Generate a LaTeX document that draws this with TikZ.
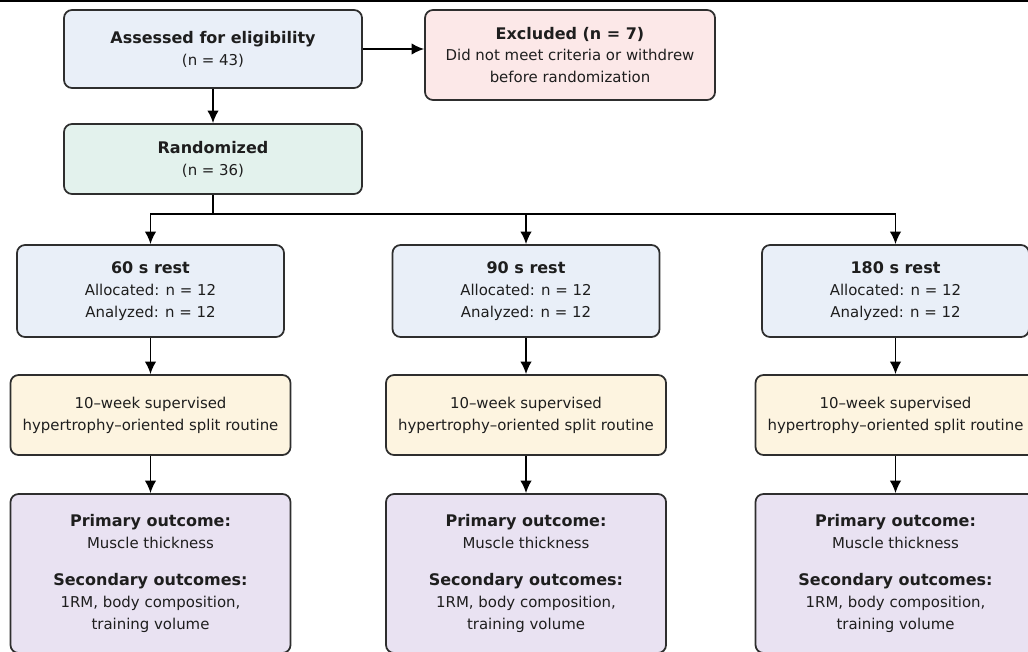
\documentclass[tikz,border=0pt]{standalone}
\usepackage{fontspec}
\setmainfont{DejaVu Sans}
\usetikzlibrary{arrows.meta, positioning}

\definecolor{edgegray}{HTML}{2E2E2E}
\definecolor{textgray}{HTML}{1E1E1E}
\definecolor{bluefill}{HTML}{E9EFF8}
\definecolor{pinkfill}{HTML}{FCE8E8}
\definecolor{mintfill}{HTML}{E3F2ED}
\definecolor{creamfill}{HTML}{FDF4E0}
\definecolor{lilacfill}{HTML}{E9E2F2}

\newcommand{\hd}[1]{{\fontsize{9.1}{12.5}\selectfont\bfseries #1}}

\tikzset{
  box/.style={draw=edgegray, line width=1pt, rounded corners=0.16cm,
    align=center, text=textgray, inner sep=0pt,
    font=\fontsize{8.5}{12.5}\selectfont},
  armbox/.style={box, fill=bluefill, minimum width=5.34cm, minimum height=1.84cm},
  routbox/.style={box, fill=creamfill, minimum width=5.6cm, minimum height=1.6cm},
  outbox/.style={box, fill=lilacfill, minimum width=5.6cm, minimum height=3.18cm},
  flow/.style={draw=black, line width=1pt, -{Latex[length=2.5mm,width=2.3mm]}}
}

\begin{document}
\begin{tikzpicture}[node distance=2cm]
  \useasboundingbox (0,0) rectangle (20.56,-13.02);
  \draw[line width=1.6pt] (0,-0.02) -- (20.56,-0.02);

  \node[box, fill=bluefill, minimum width=5.96cm, minimum height=1.56cm] (assess) at (4.26,-0.98)
    {\hd{Assessed for eligibility}\\(n = 43)};
  \node[box, fill=pinkfill, minimum width=5.8cm, minimum height=1.8cm] (excl)
    [right of=assess, node distance=7.14cm, yshift=-0.12cm]
    {\hd{Excluded (n = 7)}\\Did not meet criteria or withdrew\\before randomization};
  \node[box, fill=mintfill, minimum width=5.96cm, minimum height=1.4cm] (rand)
    [below of=assess, node distance=2.2cm]
    {\hd{Randomized}\\(n = 36)};

  % arms
  \node[armbox] (arm60) [below of=rand, node distance=2.64cm, xshift=-1.25cm]
    {\hd{60 s rest}\\Allocated: n = 12\\Analyzed: n = 12};
  \node[armbox] (arm90) [right of=arm60, node distance=7.51cm]
    {\hd{90 s rest}\\Allocated: n = 12\\Analyzed: n = 12};
  \node[armbox] (arm180) [right of=arm90, node distance=7.39cm]
    {\hd{180 s rest}\\Allocated: n = 12\\Analyzed: n = 12};

  \node[routbox] (rout60) [below of=arm60, node distance=2.48cm]
    {10–week supervised\\hypertrophy–oriented split routine};
  \node[routbox] (rout90) [below of=arm90, node distance=2.48cm]
    {10–week supervised\\hypertrophy–oriented split routine};
  \node[routbox] (rout180) [below of=arm180, node distance=2.48cm]
    {10–week supervised\\hypertrophy–oriented split routine};

  \node[outbox] (out60) [below of=rout60, node distance=3.17cm]
    {\hd{Primary outcome:}\\Muscle thickness\\[8.5pt]\hd{Secondary outcomes:}\\1RM, body composition,\\training volume};
  \node[outbox] (out90) [below of=rout90, node distance=3.17cm]
    {\hd{Primary outcome:}\\Muscle thickness\\[8.5pt]\hd{Secondary outcomes:}\\1RM, body composition,\\training volume};
  \node[outbox] (out180) [below of=rout180, node distance=3.17cm]
    {\hd{Primary outcome:}\\Muscle thickness\\[8.5pt]\hd{Secondary outcomes:}\\1RM, body composition,\\training volume};

  \path[flow]
    (assess) edge (assess.east -| excl.west)
    (assess) edge (rand);
  \draw[line width=1pt] (rand.south) -- ++(0,-0.38) coordinate (fork);
  \draw[flow] (fork) -| (arm60.north);
  \draw[flow] (fork) -| (arm90.north);
  \draw[flow] (fork) -| (arm180.north);

  \path[flow]
    (arm60) edge (rout60)
    (arm90) edge (rout90)
    (arm180) edge (rout180)
    (rout60) edge (out60)
    (rout90) edge (out90)
    (rout180) edge (out180);
\end{tikzpicture}
\end{document}
